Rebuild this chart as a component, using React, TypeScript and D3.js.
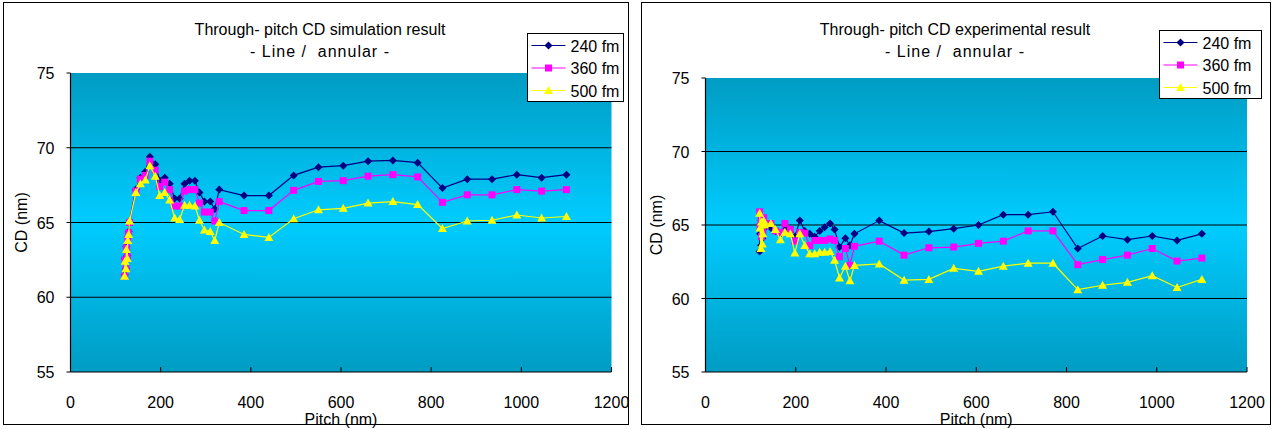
import React from 'react';
import * as d3 from 'd3';

// Pitch values (nm), shared by all series
const pitch = [
  120, 121, 123, 124, 126, 127, 129, 131,
  145, 155, 166, 176, 188, 198, 209, 220, 231, 242, 253, 264, 276, 286, 297, 310, 320, 330,
  385, 440, 495, 550, 605, 660, 715, 770, 825, 880, 935, 990, 1045, 1100,
];

// Simulation CD (nm)
const sim240 = [
  61.5, 62.6, 61.9, 63.4, 62.8, 64.0, 64.4, 65.1,
  67.2, 68.0, 68.4, 69.4, 68.9, 67.8, 68.0, 67.6, 66.6, 66.6, 67.6, 67.8, 67.8, 67.0, 66.4, 66.4, 65.9, 67.2,
  66.8, 66.8, 68.15, 68.7, 68.8, 69.1, 69.15, 69.0, 67.3, 67.9, 67.9, 68.2, 68.0, 68.2,
];
const sim360 = [
  61.4, 62.5, 61.9, 63.3, 62.7, 63.9, 64.3, 65.0,
  67.1, 67.9, 68.15, 69.1, 68.5, 67.4, 67.7, 67.2, 66.1, 66.1, 67.1, 67.2, 67.2, 66.3, 65.7, 65.7, 65.1, 66.4,
  65.8, 65.8, 67.15, 67.75, 67.8, 68.1, 68.2, 68.05, 66.35, 66.85, 66.85, 67.2, 67.1, 67.2,
];
const sim500 = [
  61.4, 62.4, 61.9, 63.2, 62.6, 63.8, 64.2, 65.1,
  67.0, 67.6, 67.85, 68.8, 68.1, 66.8, 67.0, 66.5, 65.3, 65.2, 66.15, 66.15, 66.1, 65.15, 64.5, 64.4, 63.8, 65.0,
  64.2, 64.0, 65.25, 65.85, 65.95, 66.3, 66.4, 66.2, 64.6, 65.1, 65.15, 65.5, 65.3, 65.4,
];

// Experimental CD (nm)
const exp240 = [
  63.2, 64.4, 63.6, 65.0, 64.1, 64.8, 65.2, 64.8,
  64.8, 64.6, 64.4, 64.7, 64.5, 64.2, 65.3, 64.6, 64.4, 64.2, 64.6, 64.85, 65.1, 64.7, 63.5, 64.1, 63.6, 64.4,
  65.3, 64.45, 64.55, 64.75, 65.0, 65.7, 65.7, 65.9, 63.4, 64.25, 64.0, 64.25, 63.95, 64.4,
];
const exp360 = [
  65.9, 64.9, 65.3, 64.2, 65.0, 64.5, 65.5, 65.1,
  65.1, 64.6, 64.5, 65.1, 64.7, 63.9, 64.5, 64.45, 63.6, 63.95, 63.95, 63.95, 64.05, 63.95, 62.85, 63.4, 62.25, 63.55,
  63.9, 62.95, 63.45, 63.5, 63.75, 63.9, 64.6, 64.6, 62.3, 62.65, 62.95, 63.4, 62.55, 62.75,
];
const exp500 = [
  65.8, 64.8, 63.4, 65.2, 63.7, 64.4, 65.3, 65.0,
  65.1, 64.7, 64.0, 64.5, 64.4, 63.1, 64.4, 63.6, 63.05, 63.05, 63.15, 63.15, 63.2, 62.6, 61.4, 62.2, 61.2, 62.25,
  62.35, 61.25, 61.3, 62.05, 61.85, 62.2, 62.4, 62.4, 60.6, 60.9, 61.1, 61.55, 60.75, 61.3,
];

const seriesNames = ['240 fm', '360 fm', '500 fm'];
const yTicks = [55, 60, 65, 70, 75];
const xTicks = [0, 200, 400, 600, 800, 1000, 1200];

const colors = ['#000080', '#FF00FF', '#FFFF00'];
const markerPaths = [
  'M0,-4L4,0L0,4L-4,0Z',
  'M-3.5,-3.5H3.5V3.5H-3.5Z',
  'M0,-4.5L4.5,3.5L-4.5,3.5Z',
];

const FONT = '"Liberation Sans", Arial, sans-serif';

type Geo = {
  id: string;
  frame: [number, number, number, number];
  px0: number; px1: number; py0: number; py1: number;
  titleX: number;
  legend: [number, number, number, number];
  yTitleX: number;
};

function Chart({ geo, title, data }: { geo: Geo; title: string; data: number[][] }) {
  const x = d3.scaleLinear().domain([0, 1200]).range([geo.px0, geo.px1]);
  const y = d3.scaleLinear().domain([55, 75]).range([geo.py1, geo.py0]);
  const line = d3.line<number>().x((_, i) => x(pitch[i])).y((d) => y(d));
  const [fx, fy, fw, fh] = geo.frame;
  const [lx, ly, lw, lh] = geo.legend;
  return (
    <g>
      <defs>
        <linearGradient id={geo.id} x1="0" y1="0" x2="0" y2="1">
          <stop offset="0" stopColor="#009CC3" />
          <stop offset="0.5" stopColor="#00CCFF" />
          <stop offset="1" stopColor="#009CC3" />
        </linearGradient>
      </defs>
      <rect x={fx} y={fy} width={fw} height={fh} fill="#fff" stroke="#000" strokeWidth={1} />
      <rect x={geo.px0} y={geo.py0} width={geo.px1 - geo.px0} height={geo.py1 - geo.py0} fill={`url(#${geo.id})`} />
      {yTicks.filter((t) => t > 55 && t < 75).map((t) => (
        <line key={t} x1={geo.px0} x2={geo.px1} y1={y(t)} y2={y(t)} stroke="#000" strokeWidth={1.2} />
      ))}
      <line x1={geo.px0} x2={geo.px0} y1={geo.py0} y2={geo.py1} stroke="#000" strokeWidth={1.2} />
      <line x1={geo.px0} x2={geo.px1} y1={geo.py1} y2={geo.py1} stroke="#000" strokeWidth={1.2} />
      {yTicks.map((t) => (
        <g key={t}>
          <line x1={geo.px0 - 4} x2={geo.px0} y1={y(t)} y2={y(t)} stroke="#000" />
          <text x={geo.px0 - 16} y={y(t) + 6} textAnchor="end" fontSize={16} fontFamily={FONT}>{t}</text>
        </g>
      ))}
      {xTicks.map((t) => (
        <g key={t}>
          <line x1={x(t)} x2={x(t)} y1={geo.py1} y2={geo.py1 - 5} stroke="#000" />
          <text x={x(t)} y={geo.py1 + 36} textAnchor="middle" fontSize={16} fontFamily={FONT}>{t}</text>
        </g>
      ))}
      <text x={(geo.px0 + geo.px1) / 2} y={geo.py1 + 53} textAnchor="middle" fontSize={16} fontFamily={FONT}>Pitch (nm)</text>
      <text transform={`translate(${geo.yTitleX},${(geo.py0 + geo.py1) / 2}) rotate(-90)`} textAnchor="middle" fontSize={16} fontFamily={FONT}>CD (nm)</text>
      <text x={geo.titleX} y={35} textAnchor="middle" fontSize={16} fontFamily={FONT}>{title}</text>
      <text x={geo.titleX} y={57} textAnchor="middle" fontSize={16} letterSpacing={1} fontFamily={FONT} xmlSpace="preserve">- Line /  annular -</text>
      {data.map((vals, si) => (
        <g key={si}>
          <path d={line(vals) || ''} fill="none" stroke={colors[si]} strokeWidth={1.2} />
          {vals.map((v, i) => (
            <path key={i} d={markerPaths[si]} transform={`translate(${x(pitch[i])},${y(v)})`} fill={colors[si]} />
          ))}
        </g>
      ))}
      <rect x={lx} y={ly} width={lw} height={lh} fill="#fff" stroke="#000" strokeWidth={1} />
      {seriesNames.map((n, i) => {
        const cy = ly + 12 + i * 22.5;
        return (
          <g key={n}>
            <line x1={lx + 4} x2={lx + 38} y1={cy} y2={cy} stroke={colors[i]} strokeWidth={1.2} />
            <path d={markerPaths[i]} transform={`translate(${lx + 21},${cy})`} fill={colors[i]} />
            <text x={lx + 43} y={cy + 6} fontSize={16} fontFamily={FONT}>{n}</text>
          </g>
        );
      })}
    </g>
  );
}

const leftGeo: Geo = {
  id: 'gradL',
  frame: [3.5, 2.5, 625, 422],
  px0: 70.5, px1: 611.5, py0: 73, py1: 372,
  titleX: 320,
  legend: [527.5, 33.5, 96, 68],
  yTitleX: 27,
};
const rightGeo: Geo = {
  id: 'gradR',
  frame: [641.5, 2.5, 629, 422],
  px0: 705.5, px1: 1247, py0: 78, py1: 372,
  titleX: 955,
  legend: [1159.5, 30.5, 102, 68],
  yTitleX: 662,
};

export default function App() {
  return (
    <svg width={1274} height={429} style={{ position: 'absolute', left: 0, top: 0, background: '#fff' }}>
      <Chart geo={leftGeo} title="Through- pitch CD simulation result" data={[sim240, sim360, sim500]} />
      <Chart geo={rightGeo} title="Through- pitch CD experimental result" data={[exp240, exp360, exp500]} />
    </svg>
  );
}
